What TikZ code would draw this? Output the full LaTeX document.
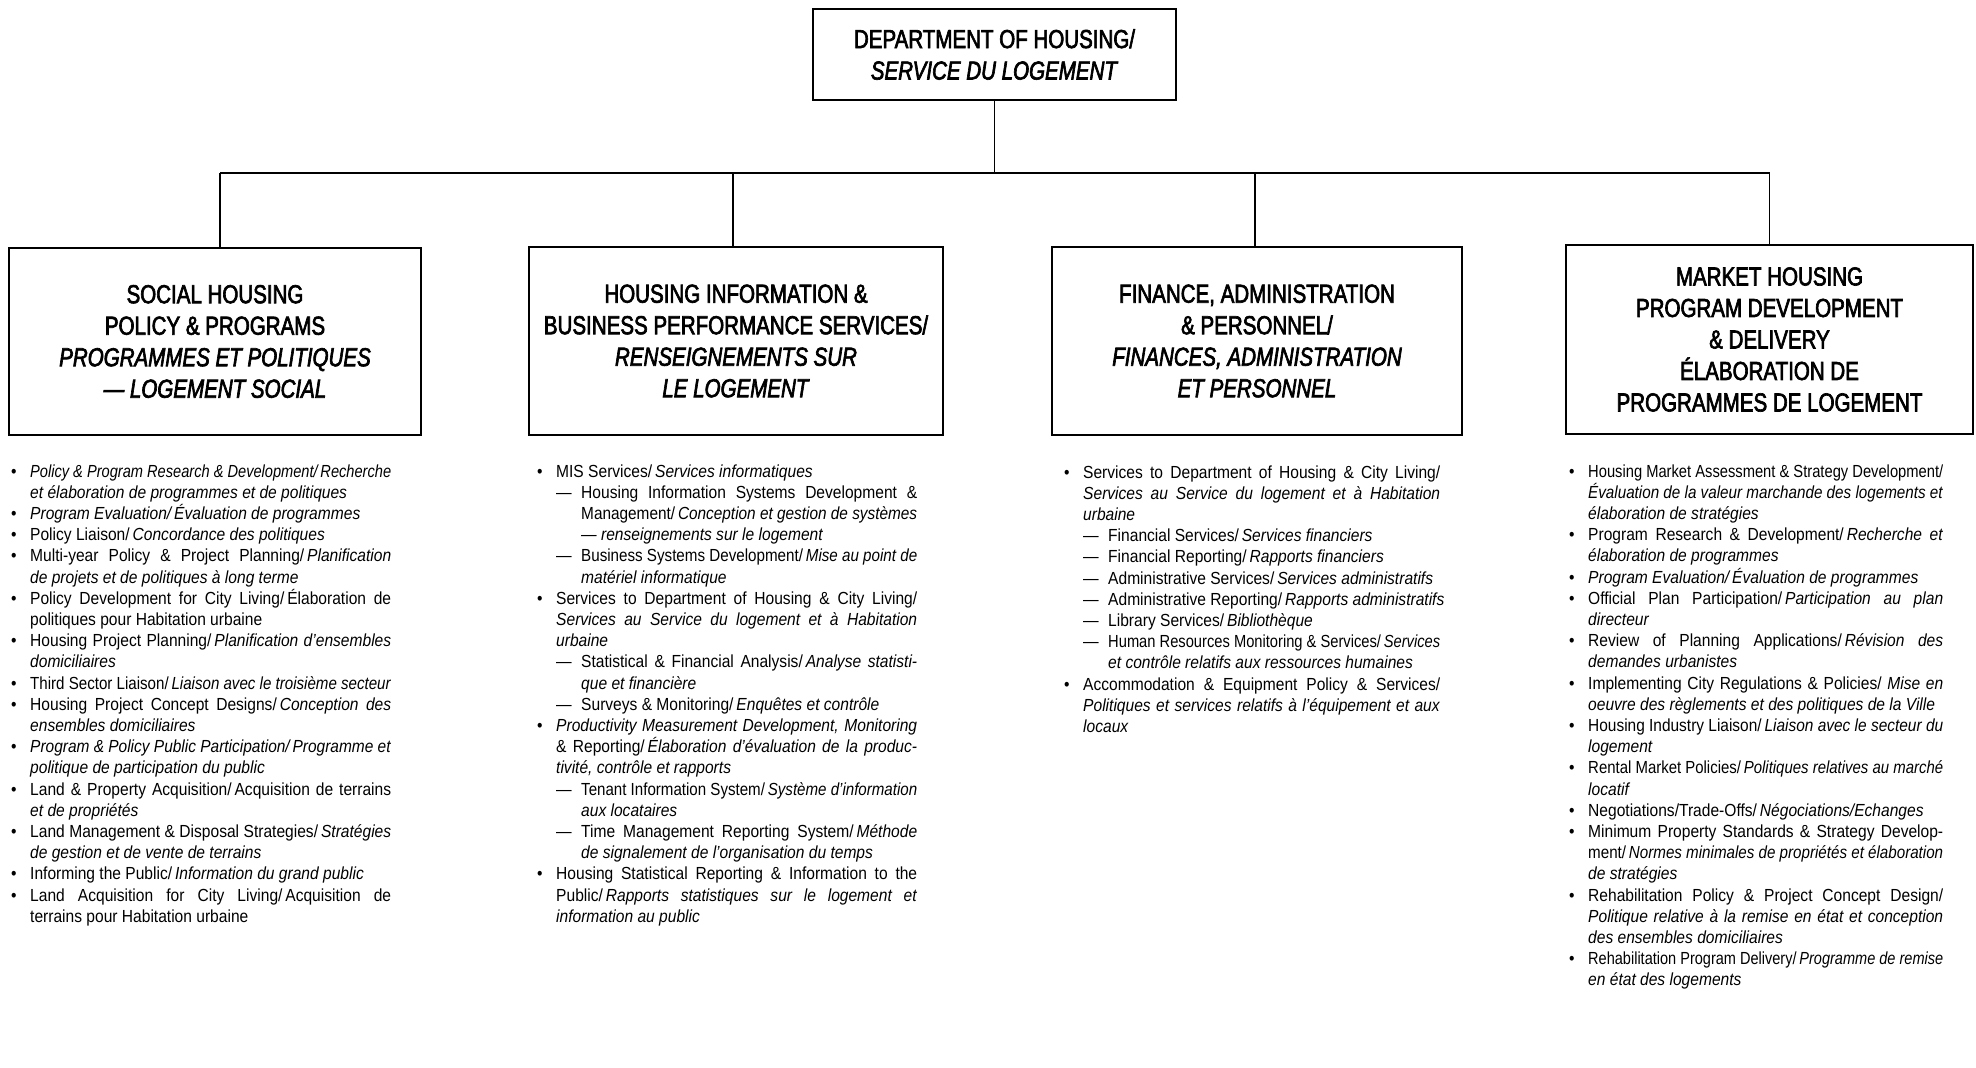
\documentclass[tikz,border=0pt]{standalone}
\usepackage{fontspec}
\usepackage{graphicx}
\setmainfont{Liberation Sans}
\newfontfamily\headfont[FakeStretch=0.79,FakeBold=2.5]{Liberation Sans}
\newfontfamily\bodyfont[FakeStretch=0.89]{Liberation Sans}
\newlength\bulind \setlength\bulind{19pt}
\newlength\dashind \setlength\dashind{25pt}
\newlength\bdind
\newlength\avail
\newsavebox\linebox
% #1 prefix material, #2 its width, #3 line content (justified, squeezed if too long)
\newcommand\fitline[3]{%
  \setlength\avail{\hsize}\addtolength\avail{-#2}%
  \sbox\linebox{#3}%
  \ifdim\wd\linebox>\avail
    \hbox to \hsize{#1\resizebox{\avail}{\height}{\usebox\linebox}}%
  \else
    \hbox to \hsize{#1#3}%
  \fi}
\newcommand\xBj[1]{\fitline{\makebox[\bulind][l]{\textbullet}}{\bulind}{#1}}
\newcommand\xBn[1]{\hbox{\makebox[\bulind][l]{\textbullet}#1}}
\newcommand\xCj[1]{\fitline{\hspace*{\bulind}}{\bulind}{#1}}
\newcommand\xCn[1]{\hbox{\hspace*{\bulind}#1}}
\newcommand\xDj[1]{\fitline{\hspace*{\bulind}\makebox[\dashind][l]{—}}{\bdind}{#1}}
\newcommand\xDn[1]{\hbox{\hspace*{\bulind}\makebox[\dashind][l]{—}#1}}
\newcommand\xEj[1]{\fitline{\hspace*{\bdind}}{\bdind}{#1}}
\newcommand\xEn[1]{\hbox{\hspace*{\bdind}#1}}
\newcommand\colbox[2]{\vtop{\hsize=#1\relax
  \setlength\bdind{\bulind}\addtolength\bdind{\dashind}#2}}
\tikzset{
  unitbox/.style={draw, line width=2.2pt, inner sep=0pt, align=center,
    font=\headfont\fontsize{26}{31.5}\selectfont},
  bodytext/.style={anchor=base west, inner sep=0pt,
    font=\bodyfont\fontsize{17.5}{21.2}\selectfont},
  conn/.style={line width=1.4pt},
  hbar/.style={line width=2.6pt}
}
\begin{document}
\begin{tikzpicture}[x=1pt,y=-1pt]
\useasboundingbox[fill=white] (0,0) rectangle (1976,1068);

\node[unitbox, minimum width=363pt, minimum height=91pt] (top) at (994.5,54.5)
  {DEPARTMENT OF HOUSING/\\\textit{SERVICE DU LOGEMENT}};

\node[unitbox, minimum width=412pt, minimum height=187pt] (b1) at (215,341.5)
  {SOCIAL HOUSING\\POLICY \& PROGRAMS\\\textit{PROGRAMMES ET POLITIQUES}\\\textit{— LOGEMENT SOCIAL}};
\node[unitbox, minimum width=414pt, minimum height=188pt] (b2) at (736,341)
  {HOUSING INFORMATION \&\\BUSINESS PERFORMANCE SERVICES/\\\textit{RENSEIGNEMENTS SUR}\\\textit{LE LOGEMENT}};
\node[unitbox, minimum width=410pt, minimum height=188pt] (b3) at (1257,341)
  {FINANCE, ADMINISTRATION\\\& PERSONNEL/\\\textit{FINANCES, ADMINISTRATION}\\\textit{ET PERSONNEL}};
\node[unitbox, minimum width=407pt, minimum height=189pt] (b4) at (1769.5,339.5)
  {MARKET HOUSING\\PROGRAM DEVELOPMENT\\\& DELIVERY\\ÉLABORATION DE\\PROGRAMMES DE LOGEMENT};

\coordinate (bar) at (994.5,173);
\coordinate (d1) at ([xshift=5pt]b1.north);
\draw[conn] (top.south) -- (bar);
\draw[hbar] (d1 |- bar) -- (b4.north |- bar);
\draw[conn] (d1 |- bar) -- (d1);
\draw[conn] ([xshift=-3pt]b2.north |- bar) -- ([xshift=-3pt]b2.north);
\draw[conn] ([xshift=-2pt]b3.north |- bar) -- ([xshift=-2pt]b3.north);
\draw[conn] (b4.north |- bar) -- (b4.north);

\node[bodytext] (c1) at (11,477) {\colbox{380pt}{%
\xBj{\textit{Policy \& Program Research \& Development/\,Recherche}}
\xCn{\textit{et élaboration de programmes et de politiques}}
\xBn{\textit{Program Evaluation/\,Évaluation de programmes}}
\xBn{Policy Liaison/\,\textit{Concordance des politiques}}
\xBj{Multi-year Policy \& Project Planning/\,\textit{Planification}}
\xCn{\textit{de projets et de politiques à long terme}}
\xBj{Policy Development for City Living/\,Élaboration de}
\xCn{politiques pour Habitation urbaine}
\xBj{Housing Project Planning/\,\textit{Planification d’ensembles}}
\xCn{\textit{domiciliaires}}
\xBj{Third Sector Liaison/\,\textit{Liaison avec le troisième secteur}}
\xBj{Housing Project Concept Designs/\,\textit{Conception des}}
\xCn{\textit{ensembles domiciliaires}}
\xBj{\textit{Program \& Policy Public Participation/\,Programme et}}
\xCn{\textit{politique de participation du public}}
\xBj{Land \& Property Acquisition/\,Acquisition de terrains}
\xCn{\textit{et de propriétés}}
\xBj{Land Management \& Disposal Strategies/\,\textit{Stratégies}}
\xCn{\textit{de gestion et de vente de terrains}}
\xBn{Informing the Public/\,\textit{Information du grand public}}
\xBj{Land Acquisition for City Living/\,Acquisition de}
\xCn{terrains pour Habitation urbaine}
}};

\node[bodytext] (c2) at (537,477) {\colbox{380pt}{%
\xBn{MIS Services/\,\textit{Services informatiques}}
\xDj{Housing Information Systems Development \&}
\xEj{Management/\,\textit{Conception et gestion de systèmes}}
\xEn{\textit{— renseignements sur le logement}}
\xDj{Business Systems Development/\,\textit{Mise au point de}}
\xEn{\textit{matériel informatique}}
\xBj{Services to Department of Housing \& City Living/}
\xCj{\textit{Services au Service du logement et à Habitation}}
\xCn{\textit{urbaine}}
\xDj{Statistical \& Financial Analysis/\,\textit{Analyse statisti-}}
\xEn{\textit{que et financière}}
\xDn{Surveys \& Monitoring/\,\textit{Enquêtes et contrôle}}
\xBj{\textit{Productivity Measurement Development, Monitoring}}
\xCj{\& Reporting/\,\textit{Élaboration d’évaluation de la produc-}}
\xCn{\textit{tivité, contrôle et rapports}}
\xDj{Tenant Information System/\,\textit{Système d’information}}
\xEn{\textit{aux locataires}}
\xDj{Time Management Reporting System/\,\textit{Méthode}}
\xEn{\textit{de signalement de l’organisation du temps}}
\xBj{Housing Statistical Reporting \& Information to the}
\xCj{Public/\,\textit{Rapports statistiques sur le logement et}}
\xCn{\textit{information au public}}
}};

\node[bodytext] (c3) at (1064,478) {\colbox{376pt}{%
\xBj{Services to Department of Housing \& City Living/}
\xCj{\textit{Services au Service du logement et à Habitation}}
\xCn{\textit{urbaine}}
\xDn{Financial Services/\,\textit{Services financiers}}
\xDn{Financial Reporting/\,\textit{Rapports financiers}}
\xDn{Administrative Services/\,\textit{Services administratifs}}
\xDn{Administrative Reporting/\,\textit{Rapports administratifs}}
\xDn{Library Services/\,\textit{Bibliothèque}}
\xDj{Human Resources Monitoring \& Services/\,\textit{Services}}
\xEn{\textit{et contrôle relatifs aux ressources humaines}}
\xBj{Accommodation \& Equipment Policy \& Services/}
\xCj{\textit{Politiques et services relatifs à l’équipement et aux}}
\xCn{\textit{locaux}}
}};

\node[bodytext] (c4) at (1569,477) {\colbox{374pt}{%
\xBj{Housing Market Assessment \& Strategy Development/}
\xCj{\textit{Évaluation de la valeur marchande des logements et}}
\xCn{\textit{élaboration de stratégies}}
\xBj{Program Research \& Development/\,\textit{Recherche et}}
\xCn{\textit{élaboration de programmes}}
\xBn{\textit{Program Evaluation/\,Évaluation de programmes}}
\xBj{Official Plan Participation/\,\textit{Participation au plan}}
\xCn{\textit{directeur}}
\xBj{Review of Planning Applications/\,\textit{Révision des}}
\xCn{\textit{demandes urbanistes}}
\xBj{Implementing City Regulations \& Policies/\ \textit{Mise en}}
\xCn{\textit{oeuvre des règlements et des politiques de la Ville}}
\xBj{Housing Industry Liaison/\,\textit{Liaison avec le secteur du}}
\xCn{\textit{logement}}
\xBj{Rental Market Policies/\,\textit{Politiques relatives au marché}}
\xCn{\textit{locatif}}
\xBn{Negotiations/Trade-Offs/\,\textit{Négociations/Echanges}}
\xBj{Minimum Property Standards \& Strategy Develop-}
\xCj{ment/\,\textit{Normes minimales de propriétés et élaboration}}
\xCn{\textit{de stratégies}}
\xBj{Rehabilitation Policy \& Project Concept Design/}
\xCj{\textit{Politique relative à la remise en état et conception}}
\xCn{\textit{des ensembles domiciliaires}}
\xBj{Rehabilitation Program Delivery/\,\textit{Programme de remise}}
\xCn{\textit{en état des logements}}
}};
\end{tikzpicture}
\end{document}
